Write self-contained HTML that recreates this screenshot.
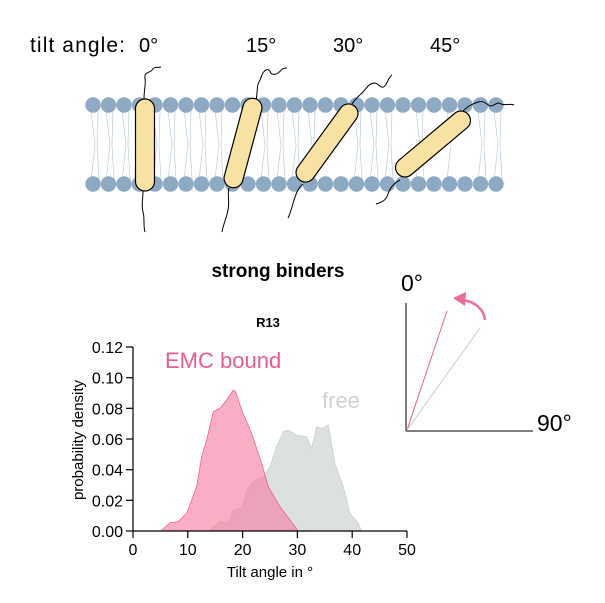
<!DOCTYPE html>
<html><head><style>
body{margin:0;background:#fff;}
svg text{font-family:"Liberation Sans",Arial,sans-serif;}
</style></head><body>
<svg width="605" height="598" viewBox="0 0 605 598" xmlns="http://www.w3.org/2000/svg">
<rect width="605" height="598" fill="#fff"/>
<text x="30" y="52" font-size="21" fill="#000" textLength="95">tilt angle:</text>
<text x="139" y="52" font-size="20">0°</text>
<text x="246" y="52" font-size="20">15°</text>
<text x="333" y="52" font-size="20">30°</text>
<text x="430" y="52" font-size="20">45°</text>
<!-- lipids -->
<g stroke="#bfcdd9" stroke-width="0.7" fill="none">
<path d="M91,110 L95,145 L91,180 M98,110 L97,145 L99,180 M106,110 L110,145 L106,180 M113,110 L112,145 L114,180 M122,110 L126,145 L122,180 M129,110 L128,145 L130,180 M153,110 L157,145 L153,180 M160,110 L159,145 L161,180 M168,110 L172,145 L168,180 M175,110 L174,145 L176,180 M184,110 L188,145 L184,180 M191,110 L190,145 L192,180 M199,110 L203,145 L199,180 M206,110 L205,145 L207,180 M215,110 L219,145 L215,180 M222,110 L221,145 L223,180 M261,110 L265,145 L261,180 M268,110 L267,145 L269,180 M277,110 L281,145 L277,180 M284,110 L283,145 L285,180 M292,110 L296,145 L292,180 M299,110 L298,145 L300,180 M308,110 L312,145 L308,180 M315,110 L314,145 L316,180 M354,110 L358,145 L354,180 M361,110 L360,145 L362,180 M370,110 L374,145 L370,180 M377,110 L376,145 L378,180 M385,110 L389,145 L385,180 M392,110 L391,145 L393,180 M416,110 L420,145 L416,180 M423,110 L422,145 L424,180 M447,110 L451,145 L447,180 M478,110 L482,145 L478,180 M485,110 L484,145 L486,180 M494,110 L498,145 L494,180 M501,110 L500,145 L502,180"/>
</g>
<g fill="#8ea9c4">
<circle cx="93" cy="105" r="7.7"/><circle cx="108.5" cy="105" r="7.7"/><circle cx="124" cy="105" r="7.7"/><circle cx="139.5" cy="105" r="7.7"/><circle cx="155" cy="105" r="7.7"/><circle cx="170.5" cy="105" r="7.7"/><circle cx="186" cy="105" r="7.7"/><circle cx="201.5" cy="105" r="7.7"/><circle cx="217" cy="105" r="7.7"/><circle cx="232.5" cy="105" r="7.7"/><circle cx="248" cy="105" r="7.7"/><circle cx="263.5" cy="105" r="7.7"/><circle cx="279" cy="105" r="7.7"/><circle cx="294.5" cy="105" r="7.7"/><circle cx="310" cy="105" r="7.7"/><circle cx="325.5" cy="105" r="7.7"/><circle cx="341" cy="105" r="7.7"/><circle cx="356.5" cy="105" r="7.7"/><circle cx="372" cy="105" r="7.7"/><circle cx="387.5" cy="105" r="7.7"/><circle cx="403" cy="105" r="7.7"/><circle cx="418.5" cy="105" r="7.7"/><circle cx="434" cy="105" r="7.7"/><circle cx="449.5" cy="105" r="7.7"/><circle cx="465" cy="105" r="7.7"/><circle cx="480.5" cy="105" r="7.7"/><circle cx="496" cy="105" r="7.7"/>
<circle cx="93" cy="184" r="7.7"/><circle cx="108.5" cy="184" r="7.7"/><circle cx="124" cy="184" r="7.7"/><circle cx="139.5" cy="184" r="7.7"/><circle cx="155" cy="184" r="7.7"/><circle cx="170.5" cy="184" r="7.7"/><circle cx="186" cy="184" r="7.7"/><circle cx="201.5" cy="184" r="7.7"/><circle cx="217" cy="184" r="7.7"/><circle cx="232.5" cy="184" r="7.7"/><circle cx="248" cy="184" r="7.7"/><circle cx="263.5" cy="184" r="7.7"/><circle cx="279" cy="184" r="7.7"/><circle cx="294.5" cy="184" r="7.7"/><circle cx="310" cy="184" r="7.7"/><circle cx="325.5" cy="184" r="7.7"/><circle cx="341" cy="184" r="7.7"/><circle cx="356.5" cy="184" r="7.7"/><circle cx="372" cy="184" r="7.7"/><circle cx="387.5" cy="184" r="7.7"/><circle cx="403" cy="184" r="7.7"/><circle cx="418.5" cy="184" r="7.7"/><circle cx="434" cy="184" r="7.7"/><circle cx="449.5" cy="184" r="7.7"/><circle cx="465" cy="184" r="7.7"/><circle cx="480.5" cy="184" r="7.7"/><circle cx="496" cy="184" r="7.7"/>
</g>
<!-- tails -->
<g stroke="#000" stroke-width="1" fill="none">
<path d="M144,99 C144,90 146,85 145,78 C144,72 150,73 152,70 C154,66 158,68 161,67"/>
<path d="M143,191 C143,200 141,205 143,212 C145,218 143,226 145,232"/>
<path d="M256,100 C258,92 256,86 260,80 C262,76 262,72 266,70 C272,68 268,76 276,74 C282,72 280,68 287,68"/>
<path d="M229,188 C227,196 230,200 228,210 C226,220 223,225 222,232"/>
<path d="M352,104 C356,98 360,95 363,92 C367,88 368,84 374,83 C380,83 380,90 385,86 C388,82 388,78 392,75"/>
<path d="M303,184 C298,188 296,194 294,200 C292,206 291,212 288,218"/>
<path d="M462,112 C468,106 472,104 478,102 C484,100 486,104 490,106 C495,106 497,101 501,104 C505,106 510,103 514,105"/>
<path d="M400,180 C394,183 390,188 388,194 C386,200 383,202 376,204"/>
</g>
<g fill="#f7e2a3" stroke="#000" stroke-width="1.2">
<rect x="135.5" y="99" width="19" height="92" rx="9.5"/>
<rect x="233.5" y="97" width="19" height="92" rx="9.5" transform="rotate(15 243 143)"/>
<rect x="317.5" y="97" width="19" height="92" rx="9.5" transform="rotate(36 327 143)"/>
<rect x="423.5" y="98" width="19" height="92" rx="9.5" transform="rotate(50 433 144)"/>
</g>
<text x="278" y="277" font-size="19" font-weight="bold" text-anchor="middle">strong binders</text>
<text x="268" y="327" font-size="13" font-weight="bold" text-anchor="middle">R13</text>
<!-- chart -->
<g transform="translate(60,330) scale(0.3333)">
<path fill="#d6dbd9" fill-opacity="0.85" stroke="#c6cbc9" stroke-width="2" d="M445,603 L480,575 L505,580 L520,540 L545,535 L560,480 L580,455 L610,440 L630,410 L650,350 L670,305 L685,300 L710,315 L740,320 L755,355 L770,290 L785,295 L805,285 L825,400 L850,470 L870,550 L895,580 L905,603 Z"/>
<path fill="#f7789e" fill-opacity="0.6" stroke="#e8507d" stroke-width="2" d="M303,603 L330,578 L355,575 L380,550 L410,470 L425,380 L440,330 L460,245 L480,235 L500,210 L520,180 L527,185 L545,240 L575,310 L605,400 L625,470 L660,530 L690,570 L715,603 Z"/>
<line x1="219" y1="603" x2="1042" y2="603" stroke="#e36f94" stroke-width="2"/>
</g>
<g stroke="#000" stroke-width="1.2">
<line x1="133" y1="347" x2="133" y2="531"/>
<line x1="133" y1="531" x2="407" y2="531"/>
<line x1="126" y1="347" x2="133" y2="347"/><line x1="126" y1="377.7" x2="133" y2="377.7"/><line x1="126" y1="408.3" x2="133" y2="408.3"/><line x1="126" y1="439" x2="133" y2="439"/><line x1="126" y1="469.7" x2="133" y2="469.7"/><line x1="126" y1="500.3" x2="133" y2="500.3"/><line x1="126" y1="531" x2="133" y2="531"/>
<line x1="133" y1="531" x2="133" y2="538"/><line x1="187.8" y1="531" x2="187.8" y2="538"/><line x1="242.6" y1="531" x2="242.6" y2="538"/><line x1="297.4" y1="531" x2="297.4" y2="538"/><line x1="352.2" y1="531" x2="352.2" y2="538"/><line x1="407" y1="531" x2="407" y2="538"/>
</g>
<g font-size="16" text-anchor="end">
<text x="123" y="353">0.12</text><text x="123" y="383.7">0.10</text><text x="123" y="414.3">0.08</text><text x="123" y="445">0.06</text><text x="123" y="475.7">0.04</text><text x="123" y="506.3">0.02</text><text x="123" y="537">0.00</text>
</g>
<g font-size="16" text-anchor="middle">
<text x="133" y="555">0</text><text x="187.8" y="555">10</text><text x="242.6" y="555">20</text><text x="297.4" y="555">30</text><text x="352.2" y="555">40</text><text x="407" y="555">50</text>
</g>
<text x="270" y="577" font-size="15" text-anchor="middle">Tilt angle in °</text>
<text transform="translate(83,440) rotate(-90)" font-size="15" text-anchor="middle">probability density</text>
<text x="165" y="368" font-size="22" fill="#ea5f8a">EMC bound</text>
<text x="322" y="408" font-size="22" fill="#cfd3d1">free</text>
<!-- inset -->
<line x1="406" y1="303" x2="406" y2="431" stroke="#555" stroke-width="1.5"/>
<line x1="406" y1="431" x2="533" y2="431" stroke="#555" stroke-width="1.5"/>
<line x1="407" y1="430" x2="447" y2="311" stroke="#ea5f8a" stroke-width="1"/>
<line x1="407" y1="430" x2="480" y2="328" stroke="#ccc" stroke-width="1"/>
<path d="M485,320 C484,310 476,302 463,300" stroke="#ee6d94" stroke-width="2.5" fill="none"/>
<path d="M453,298 L466,292 L465,306 Z" fill="#ee6d94"/>
<text x="401" y="291" font-size="23">0°</text>
<text x="537" y="431" font-size="23">90°</text>
</svg>
</body></html>
